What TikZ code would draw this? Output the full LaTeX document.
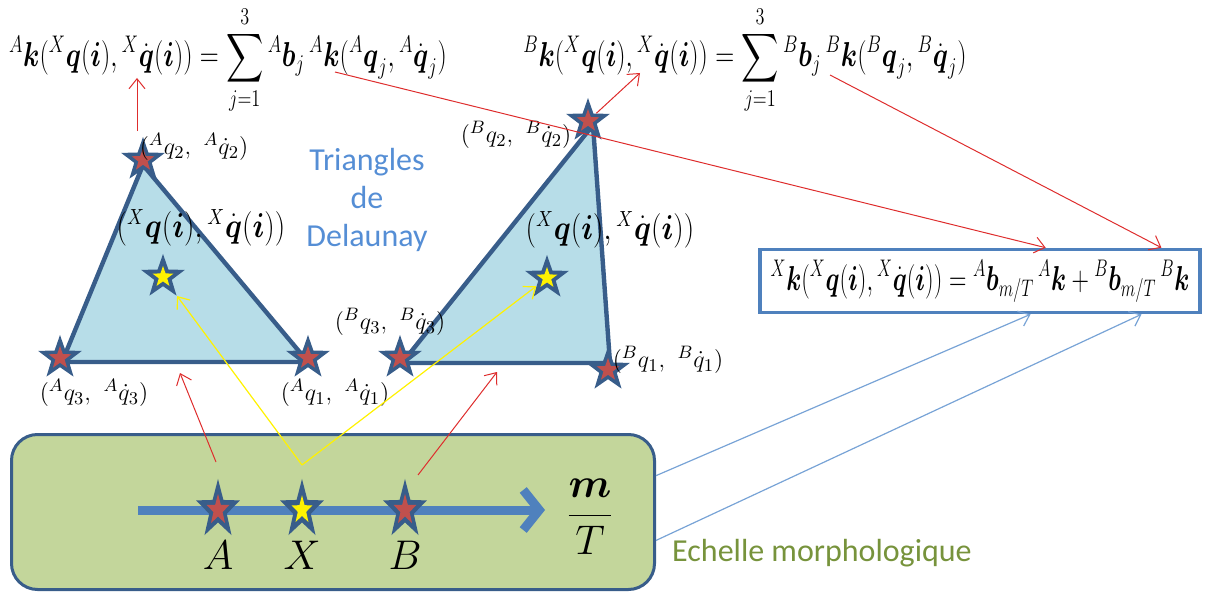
\documentclass[tikz,border=0pt]{standalone}
\usepackage{amsmath,amssymb}
\usepackage{graphicx}
\usepackage{fontspec}
\newfontfamily\calib{Carlito}
\usepackage{tikz}
\usetikzlibrary{arrows.meta,shapes.geometric,calc}

\definecolor{triblue}{RGB}{183,221,232}
\definecolor{edgeblue}{RGB}{56,93,138}
\definecolor{starred}{RGB}{192,80,77}
\definecolor{axisblue}{RGB}{79,129,189}
\definecolor{boxgreen}{RGB}{195,214,155}
\definecolor{textgreen}{RGB}{119,147,60}
\definecolor{textblue}{RGB}{85,142,213}
\definecolor{linkblue}{RGB}{120,163,214}
\definecolor{linkred}{RGB}{222,45,45}

\begin{document}
\begin{tikzpicture}[
x=0.5pt,y=-0.5pt,
tri/.style={draw=edgeblue, line width=2.2pt, fill=triblue, line join=round},
bigstar/.style={star, star points=5, star point ratio=2.5, fill=edgeblue, minimum size=23pt, inner sep=0pt},
redstar/.style={star, star points=5, star point ratio=2.5, fill=starred, minimum size=12pt, inner sep=0pt},
yelstar/.style={star, star points=5, star point ratio=2.5, fill=yellow, minimum size=11pt, inner sep=0pt},
lbl/.style={font=\fontsize{13}{15}\selectfont, inner sep=1pt},
eq/.style={font=\fontsize{17}{21}\selectfont, inner sep=0pt},
xeq/.style={font=\fontsize{16}{19}\selectfont, inner sep=0pt},
scalebox/.style={draw=edgeblue, line width=1.5pt, fill=boxgreen, rounded corners=13pt, minimum width=321.5pt, minimum height=77.5pt},
resbox/.style={draw=axisblue, line width=1.8pt, minimum width=220pt, minimum height=31.5pt, inner sep=0pt},
axis/.style={line width=4.5pt, axisblue, -{Straight Barb[length=8pt,width=20pt]}},
redarr/.style={-{Straight Barb[length=5pt,width=8pt]}, linkred, line width=0.5pt},
yelarr/.style={-{Straight Barb[length=5pt,width=8pt]}, yellow, line width=0.6pt},
bluarr/.style={-{Straight Barb[length=5pt,width=8pt]}, linkblue, line width=0.6pt}
]
\useasboundingbox (0,0) rectangle (1205,593);
% Delaunay triangles
\coordinate (ta1) at (308,362);
\coordinate (ta2) at (143,165);
\coordinate (ta3) at (62,362);
\coordinate (tb1) at (610,363);
\coordinate (tb2) at (593,125);
\coordinate (tb3) at (402,363);
\draw[tri] (ta2) -- (ta3) -- (ta1) -- cycle;
\draw[tri] (tb2) -- (tb3) -- (tb1) -- cycle;
\foreach \n/\px/\py in {a1/308/358, a2/143/160, a3/60/358, b1/608/370, b2/588/121, b3/400/358} {
  \node[bigstar] (\n) at (\px,\py) {};
  \node[redstar] (\n-c) at (\n) {};
}
\node[bigstar] (xa) at (163,277) {};
\node[yelstar] (xa-c) at (xa) {};
\node[bigstar] (xb) at (547,278) {};
\node[yelstar] (xb-c) at (xb) {};
\node[lbl] (la2) at (194,147) {$({}^{A}q_2,\ {}^{A}\dot q_2)$};
\node[lbl] (la3) at (94,393) {$({}^{A}q_3,\ {}^{A}\dot q_3)$};
\node[lbl] (la1) at (335,393) {$({}^{A}q_1,\ {}^{A}\dot q_1)$};
\node[lbl] (lb2) at (516,135) {$({}^{B}q_2,\ {}^{B}\dot q_2)$};
\node[lbl] (lb3) at (390,322) {$({}^{B}q_3,\ {}^{B}\dot q_3)$};
\node[lbl] (lb1) at (668,360) {$({}^{B}q_1,\ {}^{B}\dot q_1)$};
\node[xeq] (lxa) at (201,228) {\scalebox{0.85}[1]{$({}^{X}\boldsymbol{q}(\boldsymbol{i}),{}^{X}\dot{\boldsymbol{q}}(\boldsymbol{i}))$}};
\node[xeq] (lxb) at (610,230) {\scalebox{0.85}[1]{$({}^{X}\boldsymbol{q}(\boldsymbol{i}),{}^{X}\dot{\boldsymbol{q}}(\boldsymbol{i}))$}};
\node[text=textblue, align=center, font=\calib\fontsize{16}{19}\selectfont] (delau) at (367,200) {Triangles\\de\\Delaunay};
% formulas
\node[eq] (fA) at (228,60) {\scalebox{0.76}[1]{$\displaystyle {}^{A}\boldsymbol{k}({}^{X}\boldsymbol{q}(\boldsymbol{i}),{}^{X}\dot{\boldsymbol{q}}(\boldsymbol{i}))=\sum_{j=1}^{3}{}^{A}\boldsymbol{b}_j\,{}^{A}\boldsymbol{k}({}^{A}\boldsymbol{q}_j,{}^{A}\dot{\boldsymbol{q}}_j)$}};
\node[eq] (fB) at (745,60) {\scalebox{0.76}[1]{$\displaystyle {}^{B}\boldsymbol{k}({}^{X}\boldsymbol{q}(\boldsymbol{i}),{}^{X}\dot{\boldsymbol{q}}(\boldsymbol{i}))=\sum_{j=1}^{3}{}^{B}\boldsymbol{b}_j\,{}^{B}\boldsymbol{k}({}^{B}\boldsymbol{q}_j,{}^{B}\dot{\boldsymbol{q}}_j)$}};
\node[resbox, font=\fontsize{17}{21}\selectfont] (res) at (980,281) {\scalebox{0.7}[1]{$\displaystyle {}^{X}\boldsymbol{k}({}^{X}\boldsymbol{q}(\boldsymbol{i}),{}^{X}\dot{\boldsymbol{q}}(\boldsymbol{i}))={}^{A}\boldsymbol{b}_{m/T}\,{}^{A}\boldsymbol{k}+{}^{B}\boldsymbol{b}_{m/T}\,{}^{B}\boldsymbol{k}$}};
% morphological scale
\node[scalebox] (scale) at (333,512) {};
\draw[axis] (138,510) -- (545,510);
\foreach \n/\px/\c in {sA/218/redstar, sX/302/yelstar, sB/405/redstar} {
  \node[bigstar, yscale=1.35, transform shape] (\n) at (\px,510) {};
  \node[\c, yscale=1.35, transform shape] (\n-c) at (\n) {};
}
\node[font=\fontsize{22}{26}\selectfont] (lA) at (218,555) {$A$};
\node[font=\fontsize{22}{26}\selectfont] (lX) at (302,555) {$X$};
\node[font=\fontsize{22}{26}\selectfont] (lB) at (405,555) {$B$};
\node[font=\fontsize{20}{24}\selectfont] (mt) at (590,517) {$\dfrac{\boldsymbol{m}}{T}$};
\node[text=textgreen, font=\calib\fontsize{16}{19}\selectfont] (echelle) at (822,553) {Echelle morphologique};
% connectors
\coordinate (fAin) at (137,78);
\coordinate (fBin) at (640,73);
\coordinate (fAout) at (335,72);
\coordinate (fBout) at (830,75);
\coordinate (tAin) at (180,373);
\coordinate (tBin) at (497,372);
\draw[redarr] (la2.north -| fAin) -- (fAin);
\draw[redarr] (b2) -- (fBin);
\draw[redarr] (fAout) -- ($(res.north west)!0.648!(res.north east)$);
\draw[redarr] (fBout) -- ($(res.north west)!0.909!(res.north east)$);
\draw[redarr] ([shift={(-2,-48)}]sA.center) -- (tAin);
\draw[redarr] ([shift={(13,-35)}]sB.center) -- (tBin);
\draw[yelarr] ([shift={(0,-45)}]sX.center) -- (xa);
\draw[yelarr] ([shift={(0,-45)}]sX.center) -- (xb);
\draw[bluarr] ($(scale.north east)!0.27!(scale.south east)$) -- ($(res.south west)!0.614!(res.south east)$);
\draw[bluarr] ($(scale.north east)!0.68!(scale.south east)$) -- ($(res.south west)!0.864!(res.south east)$);
\end{tikzpicture}
\end{document}
